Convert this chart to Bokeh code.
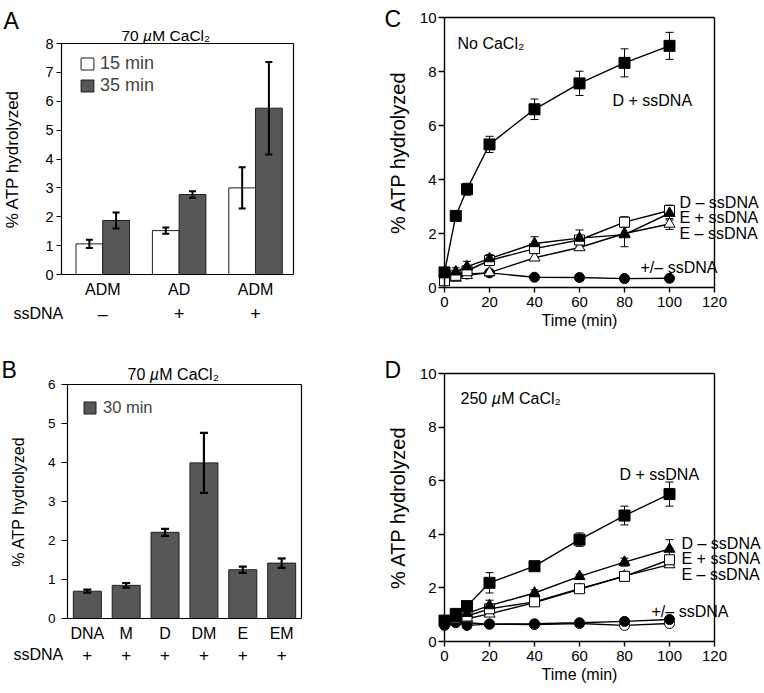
from bokeh.plotting import figure
from bokeh.models import (Range1d, FixedTicker, Label, Whisker, TeeHead, LinearAxis,
                          ColumnDataSource, Legend, LegendItem)
from bokeh.layouts import row, column
from bokeh.embed import file_html
from bokeh.resources import INLINE

FONT = "Liberation Sans"

# ---------------- data ----------------
# A: ATP hydrolysis at two time points, 70 uM CaCl2
a_groups = ["ADM", "AD", "ADM"]
a_ssdna = ["–", "+", "+"]
a_15 = [1.06, 1.52, 3.00]
a_15_err = [0.14, 0.11, 0.71]
a_35 = [1.87, 2.77, 5.76]
a_35_err = [0.28, 0.11, 1.60]

# B: 30 min, 70 uM CaCl2
b_groups = ["DNA", "M", "D", "DM", "E", "EM"]
b_ssdna = ["+", "+", "+", "+", "+", "+"]
b_30 = [0.70, 0.85, 2.21, 3.99, 1.25, 1.42]
b_30_err = [0.04, 0.06, 0.09, 0.77, 0.08, 0.12]

# C / D: time courses
times = [0, 5, 10, 20, 40, 60, 80, 100]

c_d_plus = [0.56, 2.65, 3.64, 5.30, 6.60, 7.56, 8.32, 8.95]
c_d_plus_err = [0, 0.15, 0.22, 0.30, 0.38, 0.45, 0.52, 0.50]
c_d_minus = [0.25, 0.45, 0.62, 1.00, 1.44, 1.76, 2.42, 2.85]
c_d_minus_err = [0, 0, 0, 0, 0, 0.1, 0.2, 0.2]
c_e_plus = [0.50, 0.58, 0.77, 1.07, 1.63, 1.83, 1.96, 2.75]
c_e_plus_err = [0, 0.15, 0.20, 0.15, 0.25, 0.30, 0.45, 0.25]
c_e_minus = [0.20, 0.35, 0.45, 0.55, 1.10, 1.48, 2.00, 2.35]
c_e_minus_err = [0, 0, 0, 0, 0, 0, 0, 0.2]
c_pm = [0.40, 0.45, 0.50, 0.54, 0.38, 0.37, 0.33, 0.34]

d_d_plus = [0.78, 1.03, 1.32, 2.19, 2.81, 3.80, 4.70, 5.50]
d_d_plus_err = [0, 0, 0.10, 0.38, 0.10, 0.25, 0.35, 0.45]
d_d_minus = [0.75, 0.88, 0.95, 1.22, 1.48, 1.97, 2.43, 3.05]
d_d_minus_err = [0, 0, 0, 0, 0, 0.08, 0.08, 0.1]
d_e_plus = [0.70, 0.85, 1.05, 1.34, 1.81, 2.43, 2.96, 3.45]
d_e_plus_err = [0, 0, 0, 0.20, 0.12, 0.08, 0.15, 0.35]
d_e_minus = [0.70, 0.80, 0.85, 1.03, 1.45, 1.95, 2.45, 2.87]
d_pm_plus = [0.60, 0.72, 0.60, 0.65, 0.66, 0.70, 0.75, 0.82]
d_pm_minus = [0.65, 0.70, 0.70, 0.65, 0.63, 0.67, 0.60, 0.67]

y_title = "% ATP hydrolyzed"
x_title = "Time (min)"


# ---------------- helpers ----------------
def make_panel(ox, oy, w, h, box, xr, yr, lw=1.2):
    """Figure whose canvas is all frame; the plot box (left, top, right, bottom,
    page pixels) is drawn with axes pinned at fixed data locations."""
    fl, ft, fr, fb = box
    kx = (xr[1] - xr[0]) / (fr - fl)
    ky = (yr[1] - yr[0]) / (fb - ft)
    x_lo, x_hi = xr[0] - (fl - ox) * kx, xr[1] + (ox + w - fr) * kx
    y_lo, y_hi = yr[0] - (oy + h - fb) * ky, yr[1] + (ft - oy) * ky
    p = figure(width=w, height=h, x_range=Range1d(x_lo, x_hi), y_range=Range1d(y_lo, y_hi),
               min_border=0, min_border_left=0, min_border_right=0,
               min_border_top=0, min_border_bottom=0,
               output_backend="svg", toolbar_location=None,
               background_fill_color="white", border_fill_color="white")
    p.grid.visible = False
    p.outline_line_color = None
    bottom = p.below[0]
    left = p.left[0]
    bottom.fixed_location = yr[0]
    bottom.bounds = xr
    left.fixed_location = xr[0]
    left.bounds = yr
    top = LinearAxis(fixed_location=yr[1], bounds=xr, ticker=FixedTicker(ticks=[]))
    right = LinearAxis(fixed_location=xr[1], bounds=yr, ticker=FixedTicker(ticks=[]))
    p.add_layout(top, "above")
    p.add_layout(right, "right")
    for ax in (bottom, left, top, right):
        ax.axis_line_color = "black"
        ax.axis_line_width = lw
        ax.major_tick_line_color = "black"
        ax.major_tick_line_width = lw
        ax.minor_tick_line_color = None
        ax.major_tick_in = 0
        ax.major_label_text_font = FONT
        ax.major_label_text_color = "black"
        ax.axis_label_text_font = FONT
        ax.axis_label_text_font_style = "normal"
        ax.axis_label_text_color = "black"
    for ax in (top, right):
        ax.major_tick_out = 0

    def at(px, py):
        x = xr[0] + (px - fl) * kx
        y = yr[0] + (fb - py) * ky
        return x, y

    def col(x):
        return fl + (x - xr[0]) / kx

    return p, bottom, left, at, col


def put_text(p, at, s, px, py, size, align="left", style="normal"):
    x, y = at(px, py)
    p.add_layout(Label(x=x, y=y, text=s, text_font=FONT, text_font_size=f"{size}px",
                       text_align=align, text_baseline="alphabetic",
                       text_color="black", text_font_style=style, level="overlay"))


def put_conc(p, at, number, px, py, size):
    """'<number> µM CaCl₂' with an italic µ, starting at px."""
    digits = sum(0.556 for ch in number) + 0.278
    put_text(p, at, number + " ", px, py, size)
    put_text(p, at, "µ", px + digits * size, py, size, style="italic")
    put_text(p, at, "M CaCl₂", px + (digits + 0.6) * size, py, size)


def error_bars(p, xs, ys, es, lw, size, level):
    keep = [(x, y, e) for x, y, e in zip(xs, ys, es) if e > 0]
    src = ColumnDataSource(dict(base=[k[0] for k in keep],
                                upper=[k[1] + k[2] for k in keep],
                                lower=[k[1] - k[2] for k in keep]))
    p.add_layout(Whisker(source=src, base="base", upper="upper", lower="lower",
                         line_color="black", line_width=lw, level=level,
                         upper_head=TeeHead(size=size, line_color="black", line_width=lw),
                         lower_head=TeeHead(size=size, line_color="black", line_width=lw)))


BAR_DARK = "#575757"
BAR_EDGE = "#1e1e1e"

# ---------------- panel A ----------------
pA, xA, yA, atA, colA = make_panel(0, 0, 382, 338, (61, 43, 293, 274), (-0.54, 2.497), (0, 8))
a_x = list(range(len(a_groups)))
ra15 = pA.vbar(x=[i - 0.175 for i in a_x], top=a_15, width=0.35, bottom=0,
               fill_color="white", line_color=BAR_EDGE, line_width=1)
ra35 = pA.vbar(x=[i + 0.175 for i in a_x], top=a_35, width=0.35, bottom=0,
               fill_color=BAR_DARK, line_color=BAR_EDGE, line_width=1)
error_bars(pA, [i - 0.175 for i in a_x], a_15, a_15_err, 2, 7, "annotation")
error_bars(pA, [i + 0.175 for i in a_x], a_35, a_35_err, 2, 7, "annotation")
yA.ticker = FixedTicker(ticks=list(range(0, 9)))
yA.major_tick_out = 5
yA.major_label_standoff = 3
yA.major_label_text_font_size = "14.5px"
yA.axis_label = y_title
yA.axis_label_text_font_size = "17px"
yA.axis_label_standoff = 20
xA.ticker = FixedTicker(ticks=a_x)
xA.major_label_overrides = {i: g for i, g in zip(a_x, a_groups)}
xA.major_tick_out = 0
xA.major_label_standoff = 6
xA.major_label_text_font_size = "16px"
legA = Legend(items=[LegendItem(label="15 min", renderers=[ra15]),
                     LegendItem(label="35 min", renderers=[ra35])],
              location=(79, 242), glyph_width=16, glyph_height=15,
              label_text_font=FONT, label_text_font_size="18px", label_standoff=5,
              label_height=20, spacing=1, padding=0, margin=0,
              border_line_color=None, background_fill_alpha=0)
pA.add_layout(legA)
put_text(pA, atA, "A", 3, 20, 23)
put_conc(pA, atA, "70", 121, 35, 15.5)
put_text(pA, atA, "ssDNA", 13, 313, 16)
for i, s in zip(a_x, a_ssdna):
    put_text(pA, atA, s, colA(i), 313, 18, align="center")

# ---------------- panel C ----------------
pC, xC, yC, atC, colC = make_panel(382, 0, 382, 338, (444, 17, 714, 287), (0, 120), (0, 10), lw=1.4)


def time_course(p, series, err_size):
    for ys, errs, marker, fill, size in series:
        if errs is not None:
            error_bars(p, times, ys, errs, 1, err_size, "underlay")
    for ys, errs, marker, fill, size in series:
        p.line(times, ys, line_color="black", line_width=1.4)
    for ys, errs, marker, fill, size in series:
        p.scatter(times, ys, marker=marker, size=size, fill_color=fill,
                  line_color="black", line_width=1)


def style_time_axes(xa, ya):
    xa.ticker = FixedTicker(ticks=[0, 20, 40, 60, 80, 100, 120])
    ya.ticker = FixedTicker(ticks=[0, 2, 4, 6, 8, 10])
    xa.major_tick_out = 5
    ya.major_tick_out = 6
    xa.major_label_standoff = 4
    ya.major_label_standoff = 2
    xa.major_label_text_font_size = "15px"
    ya.major_label_text_font_size = "15px"
    xa.axis_label = x_title
    xa.axis_label_text_font_size = "16px"
    xa.axis_label_standoff = 2
    ya.axis_label = y_title
    ya.axis_label_text_font_size = "20px"
    ya.axis_label_standoff = 8


time_course(pC, [
    (c_pm, None, "circle", "black", 10),
    (c_e_minus, c_e_minus_err, "triangle", "white", 11),
    (c_d_minus, c_d_minus_err, "square", "white", 10),
    (c_e_plus, c_e_plus_err, "triangle", "black", 11),
    (c_d_plus, c_d_plus_err, "square", "black", 11),
], 8)
style_time_axes(xC, yC)
put_text(pC, atC, "C", 384, 18, 23)
put_text(pC, atC, "No CaCl₂", 457, 43, 16)
put_text(pC, atC, "D + ssDNA", 612, 100, 16)
put_text(pC, atC, "D – ssDNA", 679, 202, 16)
put_text(pC, atC, "E + ssDNA", 679, 217, 16)
put_text(pC, atC, "E – ssDNA", 679, 233, 16)
put_text(pC, atC, "+/– ssDNA", 640, 267, 16)

# ---------------- panel B ----------------
pB, xB, yB, atB, colB = make_panel(0, 338, 382, 355, (67, 384, 301, 618), (-0.51, 5.51), (0, 6))
b_x = list(range(len(b_groups)))
rb30 = pB.vbar(x=b_x, top=b_30, width=0.72, bottom=0,
               fill_color=BAR_DARK, line_color=BAR_EDGE, line_width=1)
error_bars(pB, b_x, b_30, b_30_err, 2.2, 8, "annotation")
yB.ticker = FixedTicker(ticks=list(range(0, 7)))
yB.major_tick_out = 6
yB.major_label_standoff = 6
yB.major_label_text_font_size = "13.5px"
yB.axis_label = y_title
yB.axis_label_text_font_size = "16px"
yB.axis_label_standoff = 18
xB.ticker = FixedTicker(ticks=b_x)
xB.major_label_overrides = {i: g for i, g in zip(b_x, b_groups)}
xB.major_tick_out = 0
xB.major_label_standoff = 6
xB.major_label_text_font_size = "16px"
legB = Legend(items=[LegendItem(label="30 min", renderers=[rb30])],
              location=(82, 276), glyph_width=15, glyph_height=15,
              label_text_font=FONT, label_text_font_size="16.5px", label_standoff=6,
              label_height=20, spacing=0, padding=0, margin=0,
              border_line_color=None, background_fill_alpha=0)
pB.add_layout(legB)
put_text(pB, atB, "B", 1, 369, 23)
put_conc(pB, atB, "70", 127, 374, 16)
put_text(pB, atB, "ssDNA", 13, 654, 16)
for i, s in zip(b_x, b_ssdna):
    put_text(pB, atB, s, colB(i), 654, 17, align="center")

# ---------------- panel D ----------------
pD, xD, yD, atD, colD = make_panel(382, 338, 382, 355, (444, 373, 714, 641), (0, 120), (0, 10), lw=1.4)
time_course(pD, [
    (d_pm_minus, None, "circle", "white", 10),
    (d_pm_plus, None, "circle", "black", 10),
    (d_e_minus, None, "triangle", "white", 11),
    (d_d_minus, d_d_minus_err, "square", "white", 10),
    (d_e_plus, d_e_plus_err, "triangle", "black", 11),
    (d_d_plus, d_d_plus_err, "square", "black", 11),
], 8)
style_time_axes(xD, yD)
put_text(pD, atD, "D", 384, 369, 23)
put_conc(pD, atD, "250", 460, 398, 16)
put_text(pD, atD, "D + ssDNA", 619, 474, 16)
put_text(pD, atD, "D – ssDNA", 681, 543, 16)
put_text(pD, atD, "E + ssDNA", 681, 558, 16)
put_text(pD, atD, "E – ssDNA", 681, 574, 16)
put_text(pD, atD, "+/– ssDNA", 651, 611, 16)

layout = column(row(pA, pC), row(pB, pD))
open("out.html", "w").write(file_html(layout, INLINE))
